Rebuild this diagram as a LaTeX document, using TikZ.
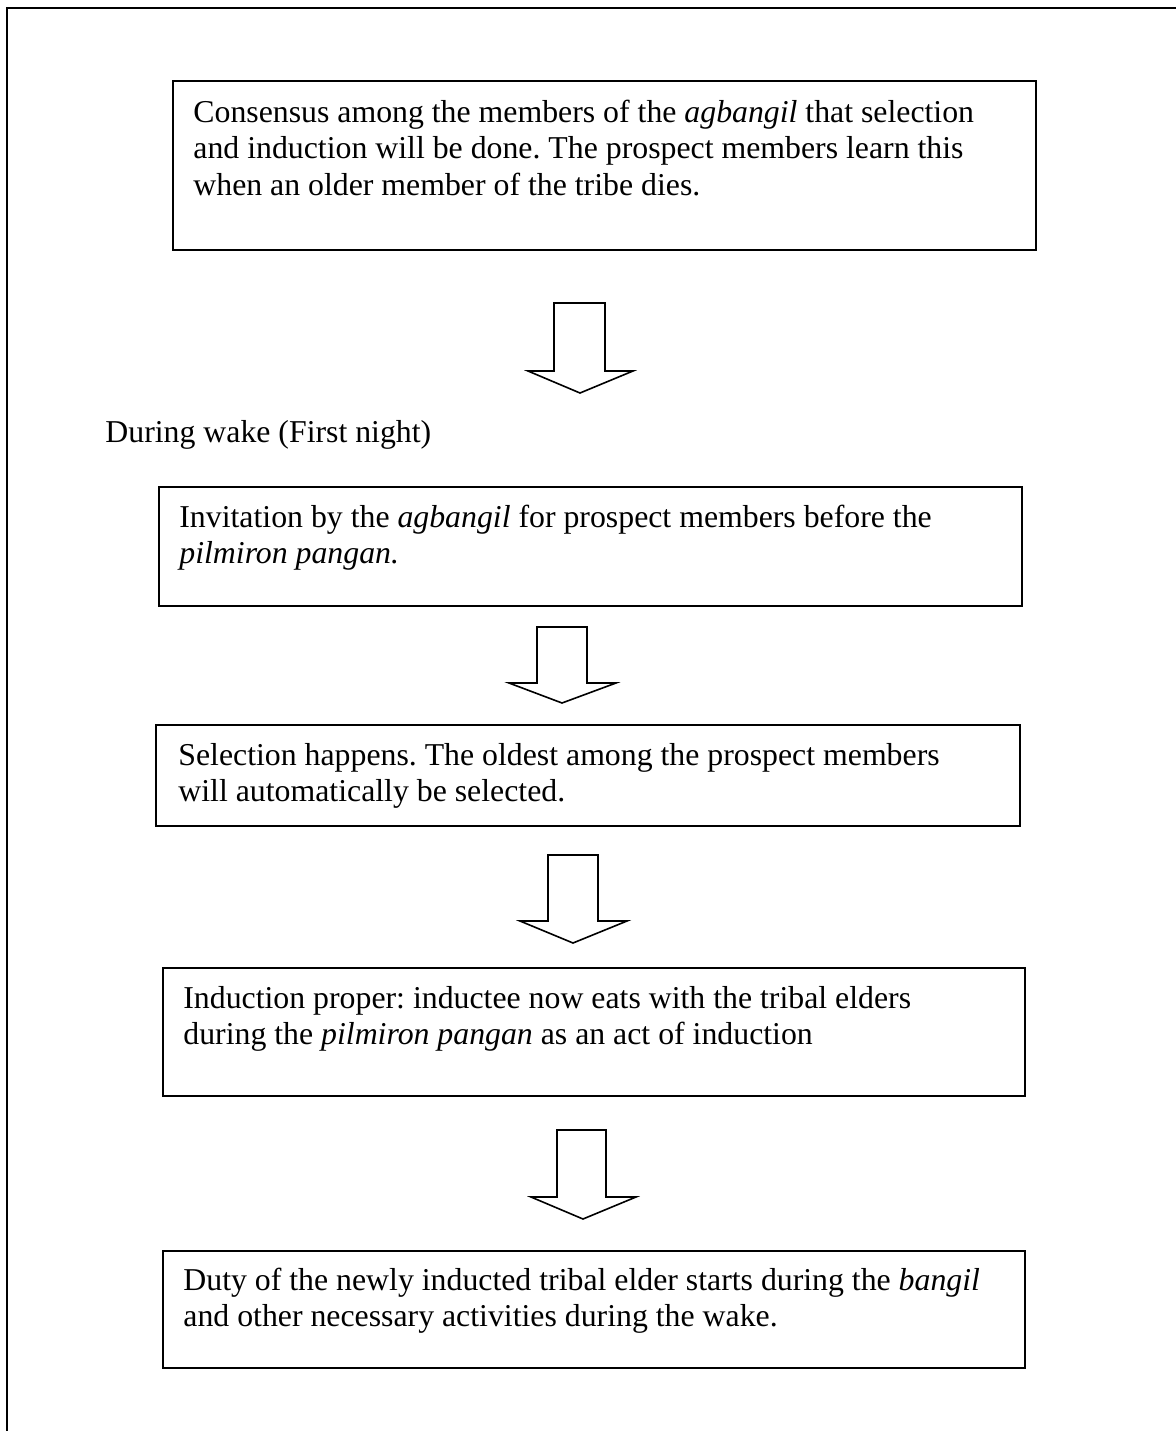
\documentclass[tikz,border=0pt]{standalone}
\usepackage{fontspec}
\setmainfont{Liberation Serif}
\frenchspacing
\begin{document}
\frenchspacing
\begin{tikzpicture}[x=0.5pt,y=-0.5pt,
  box/.style={draw, line width=1pt, inner sep=0pt},
  txt/.style={anchor=base west, inner sep=0pt, font=\fontsize{15.9}{18.3}\selectfont\frenchspacing},
  blockarrow/.style={draw, line width=0.8pt, line join=miter}]
\useasboundingbox (0,0) rectangle (1176,1431);
% frame
\draw[line width=1pt] (7,1431) -- (7,8) -- (1176,8);
% boxes
\node[box, minimum width=431.5pt, minimum height=84.5pt] (b1) at (604.5,165.5) {};
\node[box, minimum width=431.5pt, minimum height=59.5pt] (b2) at (590.5,546.5) {};
\node[box, minimum width=432pt, minimum height=50.5pt] (b3) at (588,775.5) {};
\node[box, minimum width=431pt, minimum height=64pt] (b4) at (594,1032) {};
\node[box, minimum width=431pt, minimum height=58.5pt] (b5) at (594,1309.5) {};
% texts
\node[txt] (t1) at (193,122) {\begin{tabular}[t]{@{}l@{}}Consensus among the members of the \textit{agbangil} that selection\\and induction will be done. The prospect members learn this\\when an older member of the tribe dies.\end{tabular}};
\node[txt] (wake) at (105,442) {During wake (First night)};
\node[txt] (t2) at (179,527) {\begin{tabular}[t]{@{}l@{}}Invitation by the \textit{agbangil} for prospect members before the\\\textit{pilmiron pangan.}\end{tabular}};
\node[txt] (t3) at (178,765) {\begin{tabular}[t]{@{}l@{}}Selection happens. The oldest among the prospect members\\will automatically be selected.\end{tabular}};
\node[txt] (t4) at (183,1008) {\begin{tabular}[t]{@{}l@{}}Induction proper: inductee now eats with the tribal elders\\during the \textit{pilmiron pangan} as an act of induction\end{tabular}};
\node[txt] (t5) at (183,1290) {\begin{tabular}[t]{@{}l@{}}Duty of the newly inducted tribal elder starts during the \textit{bangil}\\and other necessary activities during the wake.\end{tabular}};
% block arrows
\draw[blockarrow] (554,303) -- (554,371) -- (528,371) -- (580,393) -- (633,371) -- (605,371) -- (605,303) -- cycle;
\draw[blockarrow] (537,627) -- (537,683) -- (509,683) -- (562,703) -- (616,683) -- (587,683) -- (587,627) -- cycle;
\draw[blockarrow] (548,855) -- (548,921) -- (520,921) -- (573,943) -- (627,921) -- (598,921) -- (598,855) -- cycle;
\draw[blockarrow] (557,1130) -- (557,1197) -- (531,1197) -- (583,1219) -- (636,1197) -- (606,1197) -- (606,1130) -- cycle;
\end{tikzpicture}
\end{document}
